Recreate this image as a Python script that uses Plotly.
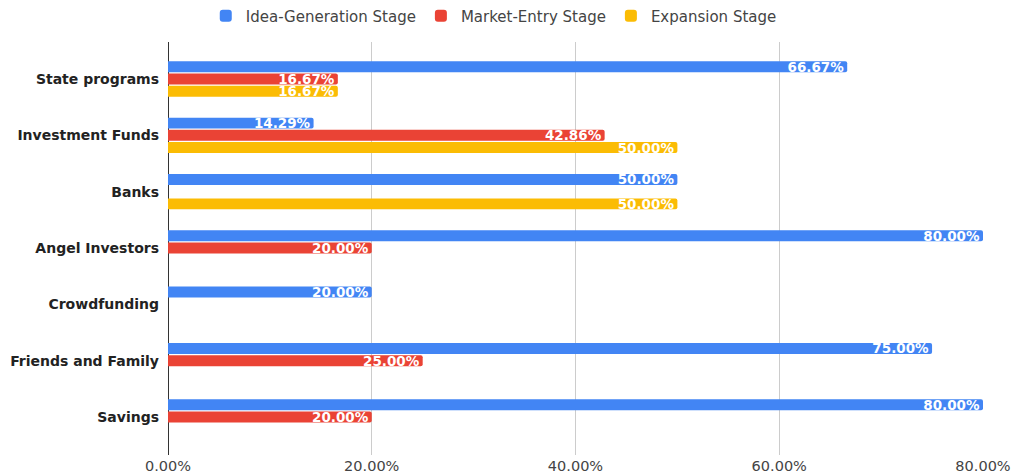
import plotly.graph_objects as go

categories = ["State programs", "Investment Funds", "Banks", "Angel Investors",
              "Crowdfunding", "Friends and Family", "Savings"]
series_names = ["Idea-Generation Stage", "Market-Entry Stage", "Expansion Stage"]
idea_generation = [0.6667, 0.1429, 0.50, 0.80, 0.20, 0.75, 0.80]
market_entry = [0.1667, 0.4286, None, 0.20, None, 0.25, 0.20]
expansion = [0.1667, 0.50, 0.50, None, None, None, None]
colors = ["#4285F4", "#EA4335", "#FBBC04"]
x_ticks = [0, 0.2, 0.4, 0.6, 0.8]

fig = go.Figure()
for name, vals, col in zip(series_names, [idea_generation, market_entry, expansion], colors):
    fig.add_trace(go.Bar(
        y=categories, x=vals, name=name, orientation="h",
        marker=dict(color=col, cornerradius=2, line=dict(width=0)),
        texttemplate="%{x:.2%}", textposition="inside", insidetextanchor="end",
        textfont=dict(family="DejaVu Sans", size=13.5, color="white", weight="bold"),
        textangle=0, cliponaxis=False,
    ))

fig.update_layout(
    barmode="group", bargap=0.35, bargroupgap=0.1,
    width=1012, height=468,
    margin=dict(l=160, r=37, t=34, b=21, autoexpand=False),
    paper_bgcolor="white", plot_bgcolor="white",
    uniformtext=dict(minsize=13.5, mode="show"),
    font=dict(family="DejaVu Sans", color="#444444"),
    legend=dict(orientation="h", xref="container", yref="container",
                x=0.48, xanchor="center", y=0.983, yanchor="middle",
                font=dict(size=15, color="#444444"), itemwidth=30,
                traceorder="normal"),
    xaxis=dict(range=[0, 0.8], tickvals=x_ticks, tickformat=".2%",
               showgrid=True, gridcolor="#cccccc", gridwidth=1,
               zeroline=True, zerolinecolor="#333333", zerolinewidth=1,
               tickfont=dict(size=14.5, color="#444444"), ticks="",
               automargin=False, fixedrange=True),
    yaxis=dict(range=[6.675, -0.657], showgrid=False, ticks="",
               tickfont=dict(size=14, color="#222222", weight="bold"),
               ticklabelstandoff=8, automargin=False),
)

fig.write_html("out.html")
